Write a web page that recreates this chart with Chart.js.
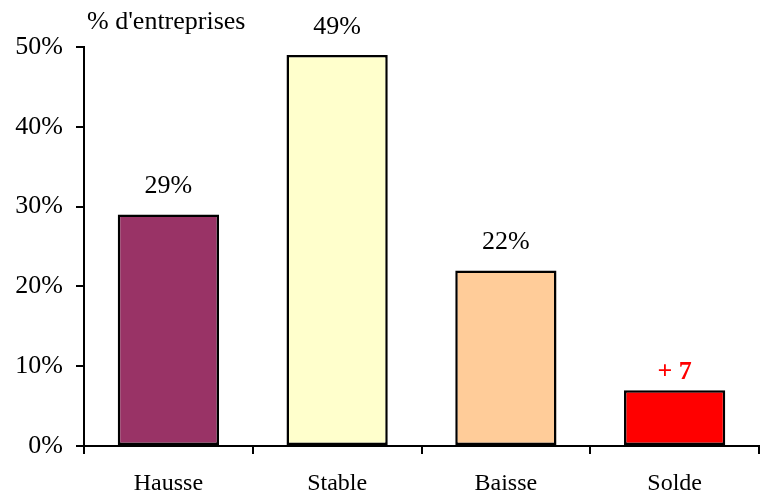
<!DOCTYPE html>
<html>
<head>
<meta charset="utf-8">
<script src="https://cdn.jsdelivr.net/npm/chart.js"></script>
<style>
  body { margin: 0; background: #fff; }
</style>
</head>
<body>
<canvas id="graphique" width="760" height="490"></canvas>
<script>
const categories = ["Hausse", "Stable", "Baisse", "Solde"];
const valeurs = [29, 49, 22, 7];
const etiquettes = ["29%", "49%", "22%", "+ 7"];
const couleurs = ["#993366", "#FFFFCC", "#FFCC99", "#FF0000"];
const graduations = [0, 10, 20, 30, 40, 50];

const police = "'Liberation Serif', 'Times New Roman', serif";

// titre de l'axe et étiquettes au-dessus des barres
const texteBarres = {
  id: "texteBarres",
  afterDatasetsDraw(chart) {
    const ctx = chart.ctx;
    ctx.save();
    ctx.font = "26px " + police;
    ctx.fillStyle = "#000";
    ctx.textAlign = "left";
    ctx.textBaseline = "middle";
    ctx.fillText("% d'entreprises", chart.chartArea.left + 3, 22);

    const meta = chart.getDatasetMeta(0);
    meta.data.forEach((barre, i) => {
      const solde = i === valeurs.length - 1;
      ctx.font = (solde ? "bold " : "") + "26px " + police;
      ctx.fillStyle = solde ? "#FF0000" : "#000";
      ctx.textAlign = "center";
      ctx.textBaseline = "middle";
      ctx.fillText(etiquettes[i], barre.x, barre.y - (solde ? 18 : 28));
    });
    ctx.restore();
  },
};

new Chart(document.getElementById("graphique"), {
  type: "bar",
  data: {
    labels: categories,
    datasets: [
      {
        data: valeurs,
        backgroundColor: couleurs,
        borderColor: "#000",
        borderWidth: 2.5,
        borderSkipped: false,
        barPercentage: 0.6,
        categoryPercentage: 1,
      },
    ],
  },
  options: {
    responsive: false,
    animation: false,
    layout: { padding: { top: 47, right: 1, left: 0, bottom: 0 } },
    plugins: {
      legend: { display: false },
      tooltip: { enabled: false },
    },
    scales: {
      x: {
        offset: true,
        grid: {
          offset: true,
          drawOnChartArea: false,
          color: "#000",
          lineWidth: 2,
          tickLength: 8,
        },
        border: { color: "#000", width: 2 },
        ticks: { color: "#000", font: { family: police, size: 24 }, padding: 15 },
        afterFit(scale) { scale.height = 44; },
      },
      y: {
        min: 0,
        max: 50,
        afterBuildTicks(scale) {
          scale.ticks = graduations.map((v) => ({ value: v }));
        },
        grid: {
          drawOnChartArea: false,
          color: "#000",
          lineWidth: 2,
          tickLength: 8,
        },
        border: { color: "#000", width: 2 },
        ticks: {
          color: "#000",
          font: { family: police, size: 26 },
          padding: 13,
          callback: (v) => v + "%",
        },
        afterFit(scale) { scale.width = 84; },
      },
    },
  },
  plugins: [texteBarres],
});
</script>
</body>
</html>
